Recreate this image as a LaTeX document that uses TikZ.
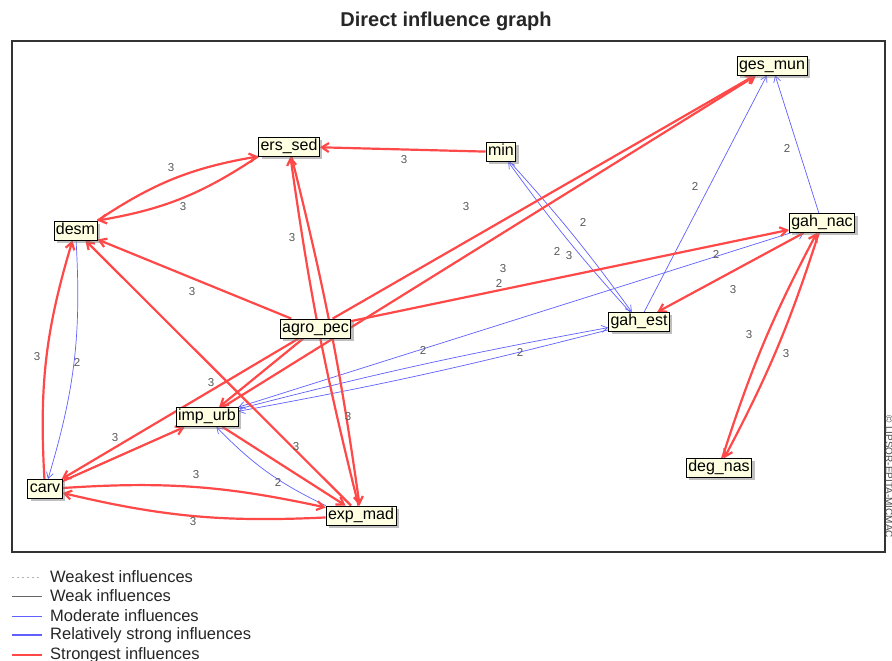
\documentclass[tikz,border=0pt]{standalone}
\usepackage{fontspec}
\setmainfont{Liberation Sans}
\usetikzlibrary{arrows.meta,shadows,backgrounds}
\definecolor{strongred}{RGB}{255,72,72}
\definecolor{modblue}{RGB}{96,96,255}
\definecolor{cream}{RGB}{255,255,225}

\begin{document}
\begin{tikzpicture}[x=1pt, y=1pt,
	factor/.style={draw, fill=cream, line width=0.8pt, font=\fontsize{16}{18}\selectfont, inner xsep=2pt, inner ysep=1.5pt, text height=12pt, text depth=4pt,
		drop shadow={shadow xshift=3pt, shadow yshift=-3pt, fill=black!50}},
	strong/.style={draw=strongred, line width=2.2pt, -{Straight Barb[length=7pt, width=9pt]}},
	moderate/.style={draw=modblue, line width=0.7pt, -{Straight Barb[length=6pt, width=7pt]}},
	wt/.style={text=black!65, font=\fontsize{11.5}{12}\selectfont, inner sep=0pt},
	legend/.style={text=black!85, font=\fontsize{16.5}{17}\selectfont, anchor=west, inner sep=0pt}]
\useasboundingbox (0,0) rectangle (892,661);
\node[font=\fontsize{20}{23}\selectfont\bfseries, text=black!85] (title) at (446,640) {Direct influence graph};
\node[text=black!70, font=\fontsize{10}{11}\selectfont, rotate=-90, inner sep=0pt] (copy) at (889,184) {© LIPSOR-EPITA-MICMAC};

\node[factor] (ges_mun) at (772,595.5) {ges\_mun};
\node[factor] (min) at (501,509) {min};
\node[factor] (ers_sed) at (289,514.5) {ers\_sed};
\node[factor] (desm) at (75.5,430.5) {desm};
\node[factor] (gah_nac) at (822,438) {gah\_nac};
\node[factor] (agro_pec) at (315.5,332.5) {agro\_pec};
\node[factor] (gah_est) at (639,339) {gah\_est};
\node[factor] (imp_urb) at (207,244) {imp\_urb};
\node[factor] (carv) at (45,172) {carv};
\node[factor] (exp_mad) at (361,145.5) {exp\_mad};
\node[factor] (deg_nas) at (719,193) {deg\_nas};

\begin{scope}[on background layer]
	\fill[white] (0,0) rectangle (892,661);
	\draw[black!80, line width=1.3pt] (12,109) rectangle (885,620);
	\draw[moderate] (desm) to[bend left=10] (carv);
	\draw[moderate] (exp_mad.north west) to[bend left=10] (imp_urb);
	\draw[moderate] (gah_est) -- (ges_mun);
	\draw[moderate] (gah_nac) -- (ges_mun);
	\draw[moderate] (min) to[bend left=3] (gah_est);
	\draw[moderate] (gah_est) to[bend left=3] (min);
	\draw[moderate] (gah_nac) -- (imp_urb);
	\draw[moderate] (imp_urb) to[bend left=2] (gah_est);
	\draw[moderate] (gah_est) to[bend left=2] (imp_urb);
	\draw[moderate] (gah_est) -- (gah_nac);
	\draw[strong] (min) -- (ers_sed);
	\draw[strong] (desm.north east) to[bend left=12] (ers_sed.south west);
	\draw[strong] (ers_sed.south west) to[bend left=12] (desm.north east);
	\draw[strong] (exp_mad) to[bend left=3] (ers_sed);
	\draw[strong] (ers_sed) to[bend left=3] (exp_mad);
	\draw[strong] (agro_pec) -- (desm);
	\draw[strong] (exp_mad) -- (desm);
	\draw[strong] (carv) to[bend left=10] (desm);
	\draw[strong] (agro_pec) -- (carv);
	\draw[strong] (carv) -- (imp_urb);
	\draw[strong] (agro_pec) -- (imp_urb);
	\draw[strong] (imp_urb) -- (exp_mad);
	\draw[strong] (carv) to[bend left=8] (exp_mad);
	\draw[strong] (exp_mad) to[bend left=8] (carv);
	\draw[strong] (agro_pec) -- (ges_mun);
	\draw[strong] (imp_urb) -- (ges_mun);
	\draw[strong] (agro_pec) -- (gah_nac);
	\draw[strong] (gah_nac) -- (gah_est);
	\draw[strong] (gah_nac) to[bend left=5] (deg_nas);
	\draw[strong] (deg_nas) to[bend left=5] (gah_nac);
\end{scope}

\foreach \px/\py/\w [count=\i] in {171/493/3, 183/454/3, 404/501/3, 292/423/3, 192/369/3, 466/454/3, 503/392/3,
	37/304/3, 211/278/3, 348/244/3, 115/223/3, 296/214/3, 196/186/3, 193/139/3, 733/371/3, 749/326/3, 786/307/3, 569/405/3,
	77/299/2, 278/179/2, 423/311/2, 520/309/2, 499/378/2, 583/439/2, 557/410/2, 716/407/2, 695/475/2, 787/513/2}
	\node[wt] (w\i) at (\px,\py) {\w};

\node[legend] (lg1) at (50,84) {Weakest influences};
\node[legend] (lg2) at (50,65) {Weak influences};
\node[legend] (lg3) at (50,45) {Moderate influences};
\node[legend] (lg4) at (50,26) {Relatively strong influences};
\node[legend] (lg5) at (50,6) {Strongest influences};
\draw[black!30, line width=0.6pt, dash pattern=on 2pt off 3pt] (12,84) -- (42,84);
\draw[black!60, line width=0.8pt] (12,65) -- (42,65);
\draw[modblue, line width=0.8pt] (12,45) -- (42,45);
\draw[modblue, line width=2pt] (12,26) -- (42,26);
\draw[strongred, line width=2.4pt] (12,6) -- (42,6);
\end{tikzpicture}
\end{document}
